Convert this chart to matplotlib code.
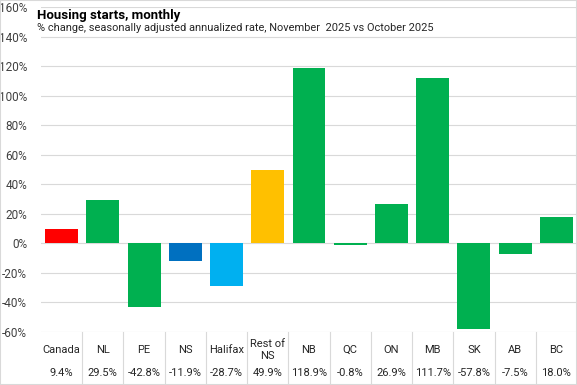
import matplotlib.pyplot as plt
from matplotlib.patches import Rectangle

plt.rcParams['font.family'] = ['Roboto', 'DejaVu Sans']

# Daten
regions = ["Canada", "NL", "PE", "NS", "Halifax", "Rest of\nNS", "NB", "QC", "ON", "MB", "SK", "AB", "BC"]
change = [9.4, 29.5, -42.8, -11.9, -28.7, 49.9, 118.9, -0.8, 26.9, 111.7, -57.8, -7.5, 18.0]
colors = ["#FF0000", "#00B050", "#00B050", "#0070C0", "#00B0F0", "#FFC000", "#00B050",
          "#00B050", "#00B050", "#00B050", "#00B050", "#00B050", "#00B050"]
yticks = [-60, -40, -20, 0, 20, 40, 60, 80, 100, 120, 140, 160]

fig = plt.figure(figsize=(5.77, 3.85), dpi=100)
ax = fig.add_axes([41 / 577, 1 - 332 / 385, 536 / 577, 325 / 385])

x = range(len(regions))
ax.bar(x, change, width=0.8, color=colors, zorder=3)

ax.set_xlim(-0.5, len(regions) - 0.5)
ax.set_ylim(-60, 160.01)
ax.set_yticks(yticks)
ax.set_yticklabels([f"{v}%" for v in yticks], fontsize=8.5, color="#404040")
ax.set_xticks([])
ax.tick_params(axis='y', length=0, pad=10)
ax.grid(axis='y', color="#D9D9D9", linewidth=0.8, zorder=0)
for s in ax.spines.values():
    s.set_visible(False)

# Tabelle unter dem Diagramm
for i, (r, v) in enumerate(zip(regions, change)):
    ax.text(i, -0.055, r, transform=ax.get_xaxis_transform(), ha='center', va='center',
            fontsize=8, color="#262626", linespacing=1.3)
    ax.text(i, -0.126, f"{v:.1f}%", transform=ax.get_xaxis_transform(), ha='center', va='center',
            fontsize=8, color="#262626")
    if i > 0:
        ax.plot([i - 0.5, i - 0.5], [0, -0.16], transform=ax.get_xaxis_transform(),
                color="#D9D9D9", linewidth=0.8, clip_on=False)

# Titel
fig.text(37 / 577, 1 - 15 / 385, "Housing starts, monthly", fontsize=9.5, fontweight='bold',
         va='center', ha='left', color="#000000")
fig.text(37 / 577, 1 - 28 / 385,
         "% change, seasonally adjusted annualized rate, November  2025 vs October 2025",
         fontsize=7.9, va='center', ha='left', color="#262626")

fig.patches.append(Rectangle((0, 0), 1, 1, transform=fig.transFigure, fill=False,
                             edgecolor="#D9D9D9", linewidth=1.5))

fig.savefig("out.png", dpi=100)
